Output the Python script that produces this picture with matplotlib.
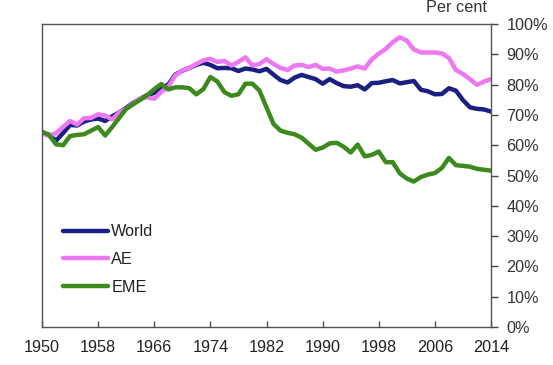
import matplotlib
matplotlib.use("Agg")
import matplotlib.pyplot as plt
from matplotlib.ticker import FuncFormatter

plt.rcParams['font.family'] = ['Liberation Sans', 'DejaVu Sans']

years = list(range(1950, 2015))

world = [64, 63.5, 61.5, 64, 66.7, 66.5, 67.8, 68.5, 68.8, 68,
         69.5, 70.8, 72.3, 74, 75.3, 76.5, 77.3, 78.8, 80, 83.3,
         84.6, 85.5, 86.5, 87.2, 86.5, 85.4, 85.5, 85.4, 84.5, 85.3,
         85, 84.4, 85.2, 83.3, 81.5, 80.7, 82.3, 83.2, 82.5, 81.8,
         80.3, 81.8, 80.5, 79.5, 79.3, 79.8, 78.4, 80.5, 80.6, 81.1,
         81.5, 80.4, 80.8, 81.2, 78.3, 77.8, 76.8, 76.9, 78.8, 78,
         74.9, 72.5, 72, 71.8, 71.1]

ae = [64, 63, 64, 66, 68, 66.8, 68.9, 69, 70.2, 69.8,
      68.5, 70.8, 72, 73.8, 75.5, 75.8, 75.3, 77.6, 79.3, 83,
      84.7, 85.5, 86.8, 88, 88.5, 87.5, 87.8, 86.3, 87.5, 89,
      86.3, 86.8, 88.4, 86.8, 85.5, 84.8, 86.3, 86.5, 85.8, 86.5,
      85.2, 85.3, 84.3, 84.7, 85.3, 86, 85.3, 88.3, 90.2, 91.8,
      94, 95.6, 94.5, 91.6, 90.6, 90.6, 90.6, 90.3, 88.8, 84.8,
      83.5, 81.8, 79.9, 81, 81.8]

eme = [64.5, 63.4, 60.3, 60, 63, 63.4, 63.6, 64.8, 66, 63.2,
       66, 69, 72, 73.5, 75, 76.5, 78.5, 80.2, 78.4, 79.1,
       79.1, 78.8, 76.8, 78.5, 82.5, 81, 77.5, 76.3, 76.8, 80.3,
       80.3, 78, 72.5, 67, 64.8, 64.1, 63.6, 62.5, 60.5, 58.5,
       59.2, 60.6, 60.8, 59.5, 57.6, 60.2, 56.3, 56.8, 57.9, 54.4,
       54.4, 50.7, 49, 48, 49.5, 50.3, 50.8, 52.5, 55.8, 53.4,
       53.2, 52.9, 52.2, 51.9, 51.6]

series_names = ['World', 'AE', 'EME']
x_ticks = [1950, 1958, 1966, 1974, 1982, 1990, 1998, 2006, 2014]
y_ticks = [0, 10, 20, 30, 40, 50, 60, 70, 80, 90, 100]

colors = ['#1b1f82', '#ee77f2', '#3b8a1c']
FS = 11.7

fig = plt.figure(figsize=(5.53, 3.65), dpi=100)
ax = fig.add_axes([42/553, 1 - 327/365, (491-42)/553, (327-24)/365])

for name, vals, c in zip(series_names, [world, ae, eme], colors):
    ax.plot(years, vals, color=c, lw=3.2, label=name, solid_capstyle='round',
            solid_joinstyle='round')

ax.set_xlim(1950, 2014)
ax.set_ylim(0, 100)
ax.set_xticks(x_ticks)
ax.set_yticks(y_ticks)
ax.yaxis.set_major_formatter(FuncFormatter(lambda v, p: f"{int(v)}%"))
ax.yaxis.tick_right()
ax.tick_params(axis='y', direction='out', length=5, width=1, colors='#444444',
               labelcolor='#333333', labelsize=FS, pad=6)
ax.tick_params(axis='x', direction='in', length=4, width=1, colors='#555555',
               labelcolor='#222222', labelsize=FS, pad=9)
for s in ax.spines.values():
    s.set_color('#555555')
    s.set_linewidth(1)

ax.text(486.5/553, 1 - 7/365, 'Per cent', transform=fig.transFigure,
        ha='right', va='center', fontsize=FS, color='#333333')

leg = ax.legend(loc='upper left', bbox_to_anchor=(0.033, 0.36), frameon=False,
                fontsize=FS, handlelength=2.75, handletextpad=0.2,
                labelspacing=0.78, borderaxespad=0)
for t in leg.get_texts():
    t.set_color('#222222')

fig.savefig('out.png', dpi=100)
